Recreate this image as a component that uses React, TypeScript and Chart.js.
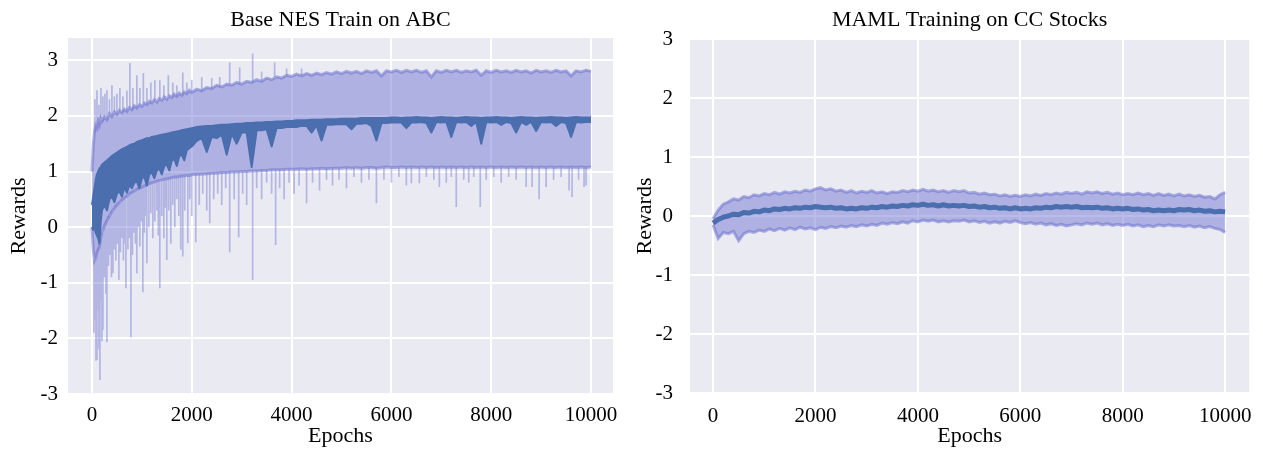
import React, { useEffect, useRef } from "react";
import { Chart, registerables } from "chart.js";

Chart.register(...registerables);

// ---------- shared tick labels ----------
const X_TICKS = [0, 2000, 4000, 6000, 8000, 10000];
const Y_TICKS = [-3, -2, -1, 0, 1, 2, 3];

// ---------- Left chart: Base NES Train on ABC ----------
const LEFT_TITLE = "Base NES Train on ABC";
const LEFT_EPOCHS = [
  0, 25, 50, 75, 100, 125, 150, 175, 200,
  250, 300, 350, 400, 450, 500, 550, 600, 650, 700, 750, 800, 850, 900, 950, 1000,
  1050, 1100, 1150, 1200, 1250, 1300, 1350, 1400, 1450, 1500, 1550, 1600, 1650, 1700, 1750, 1800,
  1850, 1900, 1950, 2000,
  2100, 2200, 2300, 2400, 2500, 2600, 2700, 2800, 2900, 3000,
  3100, 3200, 3300, 3400, 3500, 3600, 3700, 3800, 3900, 4000,
  4100, 4200, 4300, 4400, 4500, 4600, 4700, 4800, 4900, 5000,
  5100, 5200, 5300, 5400, 5500, 5600, 5700, 5800, 5900, 6000,
  6100, 6200, 6300, 6400, 6500, 6600, 6700, 6800, 6900, 7000,
  7100, 7200, 7300, 7400, 7500, 7600, 7700, 7800, 7900, 8000,
  8100, 8200, 8300, 8400, 8500, 8600, 8700, 8800, 8900, 9000,
  9100, 9200, 9300, 9400, 9500, 9600, 9700, 9800, 9900, 10000,
];
// the noisy mean reward: its running high and low (the dark band)
const LEFT_MEAN_HIGH = [
  0.4, 0.55, 0.7, 0.85, 0.95, 1.0, 1.05, 1.08, 1.12,
  1.16, 1.2, 1.24, 1.28, 1.31, 1.34, 1.37, 1.4, 1.42, 1.44, 1.47, 1.49, 1.5, 1.53, 1.55, 1.56,
  1.58, 1.6, 1.6, 1.62, 1.63, 1.64, 1.65, 1.66, 1.67, 1.68, 1.69, 1.7, 1.71, 1.72, 1.73, 1.74,
  1.75, 1.76, 1.77, 1.78,
  1.8, 1.81, 1.82, 1.82, 1.83, 1.84, 1.84, 1.85, 1.86, 1.86,
  1.87, 1.87, 1.88, 1.88, 1.89, 1.89, 1.9, 1.9, 1.91, 1.91,
  1.92, 1.92, 1.92, 1.93, 1.93, 1.93, 1.94, 1.94, 1.94, 1.95,
  1.95, 1.95, 1.95, 1.96, 1.96, 1.96, 1.96, 1.96, 1.96, 1.97,
  1.97, 1.96, 1.97, 1.97, 1.98, 1.97, 1.97, 1.96, 1.97, 1.98,
  1.97, 1.97, 1.96, 1.97, 1.98, 1.97, 1.97, 1.96, 1.97, 1.97,
  1.98, 1.97, 1.97, 1.96, 1.97, 1.98, 1.97, 1.97, 1.96, 1.97,
  1.97, 1.98, 1.97, 1.97, 1.96, 1.97, 1.98, 1.97, 1.97, 1.97,
];
const LEFT_MEAN_LOW = [
  0.0, -0.05, 0.0, -0.1, -0.15, -0.2, -0.3, 0.1, 0.3,
  0.4, 0.3, 0.5, 0.55, 0.45, 0.6, 0.65, 0.55, 0.72, 0.62, 0.76, 0.7, 0.8, 0.82, 0.7, 0.88,
  0.9, 0.75, 0.95, 0.98, 0.88, 1.02, 1.05, 0.95, 1.1, 1.12, 1.02, 1.2, 1.22, 1.1, 1.28, 1.3,
  1.2, 1.38, 1.42, 1.45,
  1.55, 1.6, 1.35, 1.62, 1.6, 1.66, 1.3, 1.68, 1.5, 1.7,
  1.7, 1.08, 1.74, 1.74, 1.76, 1.45, 1.78, 1.78, 1.8, 1.8,
  1.8, 1.82, 1.82, 1.7, 1.83, 1.56, 1.84, 1.84, 1.85, 1.85,
  1.85, 1.76, 1.86, 1.86, 1.87, 1.82, 1.56, 1.87, 1.87, 1.88,
  1.88, 1.88, 1.78, 1.88, 1.88, 1.89, 1.87, 1.7, 1.89, 1.88,
  1.89, 1.62, 1.89, 1.88, 1.89, 1.82, 1.89, 1.5, 1.89, 1.88,
  1.89, 1.84, 1.89, 1.87, 1.7, 1.89, 1.84, 1.89, 1.73, 1.89,
  1.88, 1.89, 1.82, 1.89, 1.87, 1.62, 1.89, 1.88, 1.89, 1.89,
];
const LEFT_UPPER = [
  1.0, 1.45, 1.7, 1.82, 1.78, 1.9, 1.84, 1.95, 1.9,
  1.98, 1.93, 2.04, 1.99, 2.07, 2.03, 2.1, 2.06, 2.12, 2.08, 2.15, 2.11, 2.18, 2.14, 2.2, 2.17,
  2.23, 2.2, 2.26, 2.23, 2.29, 2.25, 2.31, 2.28, 2.34, 2.3, 2.36, 2.33, 2.39, 2.35, 2.41, 2.37,
  2.43, 2.4, 2.46, 2.42,
  2.48, 2.45, 2.51, 2.49, 2.55, 2.52, 2.57, 2.55, 2.6, 2.57,
  2.62, 2.6, 2.65, 2.62, 2.68, 2.65, 2.7, 2.68, 2.73, 2.71,
  2.75, 2.72, 2.76, 2.73, 2.77, 2.74, 2.78, 2.75, 2.79, 2.76,
  2.8, 2.77, 2.8, 2.76, 2.81, 2.78, 2.81, 2.72, 2.81, 2.79,
  2.82, 2.78, 2.82, 2.79, 2.82, 2.78, 2.81, 2.7, 2.81, 2.78,
  2.82, 2.79, 2.82, 2.78, 2.81, 2.79, 2.82, 2.73, 2.81, 2.78,
  2.82, 2.79, 2.81, 2.78, 2.82, 2.79, 2.81, 2.77, 2.82, 2.79,
  2.81, 2.78, 2.82, 2.79, 2.81, 2.72, 2.81, 2.79, 2.82, 2.8,
];
const LEFT_LOWER = [
  0.0, -0.4, -0.6, -0.55, -0.45, -0.4, -0.35, -0.2, -0.1,
  0.02, 0.12, 0.2, 0.28, 0.34, 0.4, 0.44, 0.49, 0.53, 0.56, 0.6, 0.63, 0.65, 0.68, 0.7, 0.72,
  0.74, 0.76, 0.78, 0.8, 0.81, 0.83, 0.84, 0.85, 0.86, 0.87, 0.88, 0.89, 0.9, 0.9, 0.91, 0.92,
  0.92, 0.93, 0.93, 0.94,
  0.95, 0.95, 0.96, 0.97, 0.97, 0.98, 0.98, 0.99, 0.99, 1.0,
  1.0, 1.01, 1.01, 1.02, 1.02, 1.03, 1.03, 1.03, 1.04, 1.04,
  1.04, 1.05, 1.04, 1.05, 1.05, 1.06, 1.05, 1.06, 1.06, 1.06,
  1.07, 1.06, 1.07, 1.06, 1.07, 1.07, 1.06, 1.07, 1.08, 1.07,
  1.07, 1.08, 1.07, 1.08, 1.07, 1.08, 1.07, 1.08, 1.07, 1.08,
  1.07, 1.08, 1.07, 1.08, 1.07, 1.08, 1.07, 1.08, 1.07, 1.08,
  1.07, 1.08, 1.07, 1.08, 1.07, 1.08, 1.07, 1.08, 1.07, 1.08,
  1.07, 1.08, 1.07, 1.08, 1.07, 1.08, 1.07, 1.08, 1.07, 1.08,
];
// noisy excursions below the lower bound (epoch, reward)
const LEFT_DOWN_SPIKE_EPOCHS = [
  40, 60, 80, 100, 120, 140, 160, 180, 200, 220, 250, 280, 300, 330, 360, 390, 420, 450, 480, 510,
  540, 570, 600, 630, 660, 680, 720, 750, 780, 810, 840, 870, 900, 930, 960, 990, 1020, 1050, 1080, 1100,
  1140, 1180, 1220, 1260, 1300, 1330, 1360, 1400, 1440, 1470, 1500, 1540, 1580, 1620, 1660, 1700, 1740, 1780, 1820, 1860,
  1920, 1960, 2000, 2080, 2150, 2220, 2300, 2360, 2440, 2520, 2600, 2680, 2760, 2850, 2940, 3020, 3100, 3220, 3300, 3400,
  3500, 3600, 3680, 3760, 3850, 3950, 4050, 4150, 4300, 4420, 4560, 4700, 4820, 4950, 5100, 5250, 5400, 5550, 5700, 5850,
  6000, 6150, 6300, 6400, 6560, 6700, 6850, 6960, 7100, 7200, 7300, 7450, 7550, 7650, 7780, 7900, 8050, 8200, 8350, 8500,
  8700, 8820, 8960, 9100, 9250, 9400, 9560, 9620, 9750, 9860, 9900,
];
const LEFT_DOWN_SPIKE_VALUES = [
  -1.9, -1.67, -2.4, -2.39, -1.5, -2.2, -2.75, -1.3, -2.05, -1.85, -0.9, -1.2, -2.07, -0.7, -0.5, -0.9, -0.83, -0.4, -0.6, -0.3,
  -0.95, -0.45, -0.2, -0.6, -0.3, -1.1, -0.4, -0.2, -1.98, -0.5, -0.1, -0.3, -0.83, 0.0, -0.35, 0.1, -1.17, -0.1, 0.2, -0.65,
  0.0, 0.25, -0.2, 0.1, 0.3, -0.15, -1.1, 0.2, -0.2, 0.35, -0.59, 0.3, -0.3, 0.4, 0.0, 0.5, 0.2, -0.4, -0.53, 0.3,
  -0.29, 0.5, 0.2, -0.27, 0.4, 0.6, 0.3, 0.07, 0.5, 0.6, 0.4, 0.7, -0.45, 0.5, -0.18, 0.6, 0.4, -0.95, 0.7, 0.5,
  0.8, 0.6, -0.32, 0.7, 0.5, 0.8, 0.6, 0.75, 0.43, 0.8, 0.66, 0.85, 0.75, 0.85, 0.7, 0.9, 0.8, 0.85, 0.43, 0.85,
  0.8, 0.9, 0.75, 0.79, 0.79, 0.9, 0.85, 0.72, 0.8, 0.9, 0.36, 0.85, 0.8, 0.9, 0.36, 0.85, 0.9, 0.8, 0.9, 0.85,
  0.72, 0.72, 0.5, 0.72, 0.85, 0.9, 0.66, 0.54, 0.85, 0.72, 0.75,
];
// noisy excursions above the upper bound (epoch, reward)
const LEFT_UP_SPIKE_EPOCHS = [
  60, 100, 140, 180, 220, 260, 300, 350, 400, 450, 500, 560, 620, 700, 760, 820, 900, 960, 1030, 1100,
  1180, 1260, 1360, 1440, 1530, 1620, 1700, 1820, 1900, 2000, 2200, 2400, 2560, 2760, 2960, 3220, 3400, 3660, 3900, 4200,
];
const LEFT_UP_SPIKE_VALUES = [
  2.3, 2.46, 2.2, 2.5, 2.35, 2.4, 2.46, 2.3, 2.55, 2.35, 2.4, 2.5, 2.35, 2.45, 2.95, 2.5, 2.73, 2.5, 2.77, 2.5,
  2.6, 2.64, 2.64, 2.55, 2.73, 2.6, 2.55, 2.78, 2.6, 2.65, 2.7, 2.68, 2.7, 2.96, 2.87, 3.12, 2.8, 2.96, 2.85, 2.85,
];

// ---------- Right chart: MAML Training on CC Stocks ----------
const RIGHT_TITLE = "MAML Training on CC Stocks";
const RIGHT_EPOCHS = [
  0, 100, 200, 300, 400, 500, 600, 700, 800, 900,
  1000, 1100, 1200, 1300, 1400, 1500, 1600, 1700, 1800, 1900,
  2000, 2100, 2200, 2300, 2400, 2500, 2600, 2700, 2800, 2900,
  3000, 3100, 3200, 3300, 3400, 3500, 3600, 3700, 3800, 3900,
  4000, 4100, 4200, 4300, 4400, 4500, 4600, 4700, 4800, 4900,
  5000, 5100, 5200, 5300, 5400, 5500, 5600, 5700, 5800, 5900,
  6000, 6100, 6200, 6300, 6400, 6500, 6600, 6700, 6800, 6900,
  7000, 7100, 7200, 7300, 7400, 7500, 7600, 7700, 7800, 7900,
  8000, 8100, 8200, 8300, 8400, 8500, 8600, 8700, 8800, 8900,
  9000, 9100, 9200, 9300, 9400, 9500, 9600, 9700, 9800, 9900,
  10000,
];
const RIGHT_MEAN = [
  -0.12, -0.06, -0.02, 0.0, 0.03, 0.02, 0.06, 0.05, 0.08, 0.07,
  0.1, 0.09, 0.12, 0.11, 0.13, 0.12, 0.14, 0.13, 0.15, 0.14,
  0.16, 0.15, 0.14, 0.15, 0.13, 0.14, 0.12, 0.13, 0.12, 0.14,
  0.13, 0.15, 0.14, 0.16, 0.15, 0.17, 0.16, 0.18, 0.17, 0.19,
  0.18, 0.2, 0.18, 0.19, 0.17, 0.19, 0.17, 0.18, 0.17, 0.18,
  0.16, 0.17, 0.15, 0.16, 0.14, 0.15, 0.13, 0.14, 0.12, 0.14,
  0.12, 0.13, 0.12, 0.14, 0.13, 0.15, 0.14, 0.16, 0.15, 0.16,
  0.15, 0.16, 0.14, 0.15, 0.14, 0.15, 0.13, 0.14, 0.12, 0.13,
  0.12, 0.13, 0.11, 0.12, 0.1, 0.11, 0.09, 0.1, 0.09, 0.1,
  0.09, 0.11, 0.1, 0.11, 0.09, 0.1, 0.08, 0.09, 0.07, 0.08,
  0.07,
];
const RIGHT_UPPER = [
  -0.05, 0.1, 0.2, 0.24, 0.29, 0.27, 0.33, 0.31, 0.36, 0.34,
  0.38, 0.36, 0.4, 0.37, 0.41, 0.39, 0.42, 0.4, 0.44, 0.42,
  0.46, 0.48, 0.44, 0.46, 0.42, 0.44, 0.4, 0.43, 0.39, 0.42,
  0.4, 0.43, 0.39, 0.41, 0.38, 0.41, 0.4, 0.43, 0.41, 0.44,
  0.42, 0.45, 0.42, 0.44, 0.41, 0.43, 0.4, 0.43, 0.41, 0.43,
  0.39, 0.4, 0.37, 0.39, 0.36, 0.37, 0.34, 0.36, 0.33, 0.35,
  0.33, 0.36, 0.34, 0.37, 0.35, 0.38, 0.36, 0.39, 0.37, 0.4,
  0.38, 0.4, 0.37, 0.41, 0.39, 0.41, 0.38, 0.4, 0.37, 0.39,
  0.36, 0.38, 0.36, 0.39, 0.36, 0.38, 0.35, 0.38, 0.35, 0.37,
  0.34, 0.37, 0.34, 0.36, 0.33, 0.35, 0.32, 0.33, 0.29, 0.36,
  0.4,
];
const RIGHT_LOWER = [
  -0.15, -0.38, -0.28, -0.3, -0.26, -0.42, -0.3, -0.26, -0.28, -0.24,
  -0.26, -0.22, -0.25, -0.21, -0.24, -0.2, -0.23, -0.19, -0.22, -0.2,
  -0.23, -0.19, -0.21, -0.18, -0.2, -0.17, -0.19, -0.16, -0.18, -0.15,
  -0.17, -0.14, -0.16, -0.12, -0.14, -0.11, -0.13, -0.1, -0.12, -0.08,
  -0.1, -0.07, -0.09, -0.07, -0.1, -0.08, -0.1, -0.08, -0.09, -0.07,
  -0.1, -0.08, -0.11, -0.09, -0.12, -0.1, -0.12, -0.09, -0.11, -0.08,
  -0.11, -0.13, -0.11, -0.14, -0.12, -0.15, -0.13, -0.16, -0.14, -0.17,
  -0.15, -0.13, -0.15, -0.12, -0.14, -0.12, -0.15, -0.13, -0.16, -0.14,
  -0.16, -0.14, -0.17, -0.15, -0.18, -0.16, -0.18, -0.15, -0.17, -0.15,
  -0.17, -0.16, -0.18, -0.16, -0.19, -0.17, -0.2, -0.18, -0.21, -0.23,
  -0.28,
];

// ---------- styling ----------
const FONT = "'Liberation Serif', 'Times New Roman', serif";
const PLOT_BG = "#eaeaf2";
const MEAN_COLOR = "#4a6eae";
const BAND_FILL = "rgba(115,120,210,0.5)";
const EDGE_COLOR = "rgba(110,115,205,0.55)";
const SPIKE_COLOR = "rgba(120,125,210,0.48)";

const plotBg = {
  id: "plotBg",
  beforeDraw(chart: any) {
    const { ctx, chartArea } = chart;
    if (!chartArea) return;
    ctx.save();
    ctx.fillStyle = PLOT_BG;
    ctx.fillRect(chartArea.left, chartArea.top, chartArea.right - chartArea.left, chartArea.bottom - chartArea.top);
    ctx.restore();
  },
};

function toPoints(xs: number[], ys: number[]) {
  return xs.map((x, i) => ({ x, y: ys[i] }));
}

function nearestIndex(xs: number[], x: number) {
  let best = 0;
  for (let i = 1; i < xs.length; i++) if (Math.abs(xs[i] - x) < Math.abs(xs[best] - x)) best = i;
  return best;
}

function spikePoints(xs: number[], base: number[], sx: number[], sv: number[]) {
  const pts: any[] = [];
  sx.forEach((e, i) => {
    const j = nearestIndex(xs, e);
    pts.push({ x: e, y: base[j] }, { x: e, y: sv[i] }, { x: e, y: null });
  });
  return pts;
}

interface Layout {
  title: string;
  xMin: number;
  xMax: number;
  yMin: number;
  yMax: number;
  yAxisW: number;
  xAxisH: number;
  padRight: number;
  yTickPad: number;
  xTickPad: number;
  yTitlePad: number;
  titlePadTop: number;
  titlePadBottom: number;
  meanWidth: number;
  edgeWidth: number;
}

function buildConfig(L: Layout, datasets: any[]): any {
  return {
    type: "line",
    data: { datasets },
    plugins: [plotBg],
    options: {
      responsive: false,
      animation: false,
      events: [],
      layout: { padding: { left: 0, right: L.padRight, top: 0, bottom: 0 } },
      elements: { point: { radius: 0 }, line: { tension: 0 } },
      plugins: {
        legend: { display: false },
        tooltip: { enabled: false },
        title: {
          display: true,
          text: L.title,
          color: "#000",
          fullSize: false,
          font: { family: FONT, size: 22, weight: "normal" },
          padding: { top: L.titlePadTop, bottom: L.titlePadBottom },
        },
      },
      scales: {
        x: {
          type: "linear",
          min: L.xMin,
          max: L.xMax,
          afterBuildTicks: (s: any) => {
            s.ticks = X_TICKS.map((v) => ({ value: v }));
          },
          afterFit: (s: any) => {
            s.height = L.xAxisH;
          },
          grid: { color: "#ffffff", lineWidth: 2, drawTicks: false },
          border: { display: false },
          ticks: {
            padding: L.xTickPad,
            color: "#000",
            autoSkip: false,
            maxRotation: 0,
            font: { family: FONT, size: 21 },
            callback: (v: any) => String(v),
          },
          title: {
            display: true,
            text: "Epochs",
            color: "#000",
            font: { family: FONT, size: 22 },
            padding: { top: 0, bottom: 0 },
          },
        },
        y: {
          type: "linear",
          min: L.yMin,
          max: L.yMax,
          afterBuildTicks: (s: any) => {
            s.ticks = Y_TICKS.map((v) => ({ value: v }));
          },
          afterFit: (s: any) => {
            s.width = L.yAxisW;
          },
          grid: { color: "#ffffff", lineWidth: 2, drawTicks: false },
          border: { display: false },
          ticks: {
            padding: L.yTickPad,
            color: "#000",
            autoSkip: false,
            font: { family: FONT, size: 21 },
            callback: (v: any) => String(v),
          },
          title: {
            display: true,
            text: "Rewards",
            color: "#000",
            font: { family: FONT, size: 22 },
            padding: { top: L.yTitlePad, bottom: 0 },
          },
        },
      },
    },
  };
}

function line(label: string, data: any[], color: string, width: number, extra: any = {}) {
  return { label, data, borderColor: color, borderWidth: width, fill: false, pointRadius: 0, ...extra };
}

const LEFT_LAYOUT: Layout = {
  title: LEFT_TITLE,
  xMin: -480,
  xMax: 10440,
  yMin: -3,
  yMax: 3.4,
  yAxisW: 68,
  xAxisH: 55,
  padRight: 17,
  yTickPad: 10,
  xTickPad: 8.4,
  yTitlePad: 5.8,
  titlePadTop: 7.4,
  titlePadBottom: 4.2,
  meanWidth: 2,
  edgeWidth: 3,
};

const RIGHT_LAYOUT: Layout = {
  title: RIGHT_TITLE,
  xMin: -450,
  xMax: 10470,
  yMin: -3,
  yMax: 3,
  yAxisW: 60,
  xAxisH: 56,
  padRight: 13,
  yTickPad: 17,
  xTickPad: 11,
  yTitlePad: 1.8,
  titlePadTop: 7.4,
  titlePadBottom: 5.2,
  meanWidth: 5,
  edgeWidth: 3,
};

function LeftChart() {
  const ref = useRef<HTMLCanvasElement | null>(null);
  useEffect(() => {
    if (!ref.current) return;
    const L = LEFT_LAYOUT;
    const E = LEFT_EPOCHS;
    const datasets = [
      line("mean (high)", toPoints(E, LEFT_MEAN_HIGH), MEAN_COLOR, L.meanWidth, {
        fill: "+1",
        backgroundColor: MEAN_COLOR,
        borderJoinStyle: "round",
      }),
      line("mean (low)", toPoints(E, LEFT_MEAN_LOW), MEAN_COLOR, L.meanWidth, { borderJoinStyle: "round" }),
      line("lower", toPoints(E, LEFT_LOWER), EDGE_COLOR, L.edgeWidth),
      line("upper", toPoints(E, LEFT_UPPER), EDGE_COLOR, L.edgeWidth, { fill: "-1", backgroundColor: BAND_FILL }),
      line("upSpikes", spikePoints(E, LEFT_UPPER, LEFT_UP_SPIKE_EPOCHS, LEFT_UP_SPIKE_VALUES), SPIKE_COLOR, 1.7, {
        spanGaps: false,
      }),
      line("downSpikes", spikePoints(E, LEFT_LOWER, LEFT_DOWN_SPIKE_EPOCHS, LEFT_DOWN_SPIKE_VALUES), SPIKE_COLOR, 1.7, {
        spanGaps: false,
      }),
    ];
    const chart = new Chart(ref.current, buildConfig(L, datasets));
    return () => chart.destroy();
  }, []);
  return <canvas ref={ref} width={630} height={449} style={{ position: "absolute", left: 0, top: 0 }} />;
}

function RightChart() {
  const ref = useRef<HTMLCanvasElement | null>(null);
  useEffect(() => {
    if (!ref.current) return;
    const L = RIGHT_LAYOUT;
    const E = RIGHT_EPOCHS;
    const datasets = [
      line("mean", toPoints(E, RIGHT_MEAN), MEAN_COLOR, L.meanWidth, { borderJoinStyle: "round" }),
      line("lower", toPoints(E, RIGHT_LOWER), EDGE_COLOR, L.edgeWidth),
      line("upper", toPoints(E, RIGHT_UPPER), EDGE_COLOR, L.edgeWidth, { fill: "-1", backgroundColor: BAND_FILL }),
    ];
    const chart = new Chart(ref.current, buildConfig(L, datasets));
    return () => chart.destroy();
  }, []);
  return <canvas ref={ref} width={633} height={449} style={{ position: "absolute", left: 630, top: 0 }} />;
}

export default function App() {
  return (
    <div style={{ position: "absolute", left: 0, top: 0, width: 1263, height: 449, background: "#ffffff", overflow: "hidden" }}>
      <LeftChart />
      <RightChart />
    </div>
  );
}
